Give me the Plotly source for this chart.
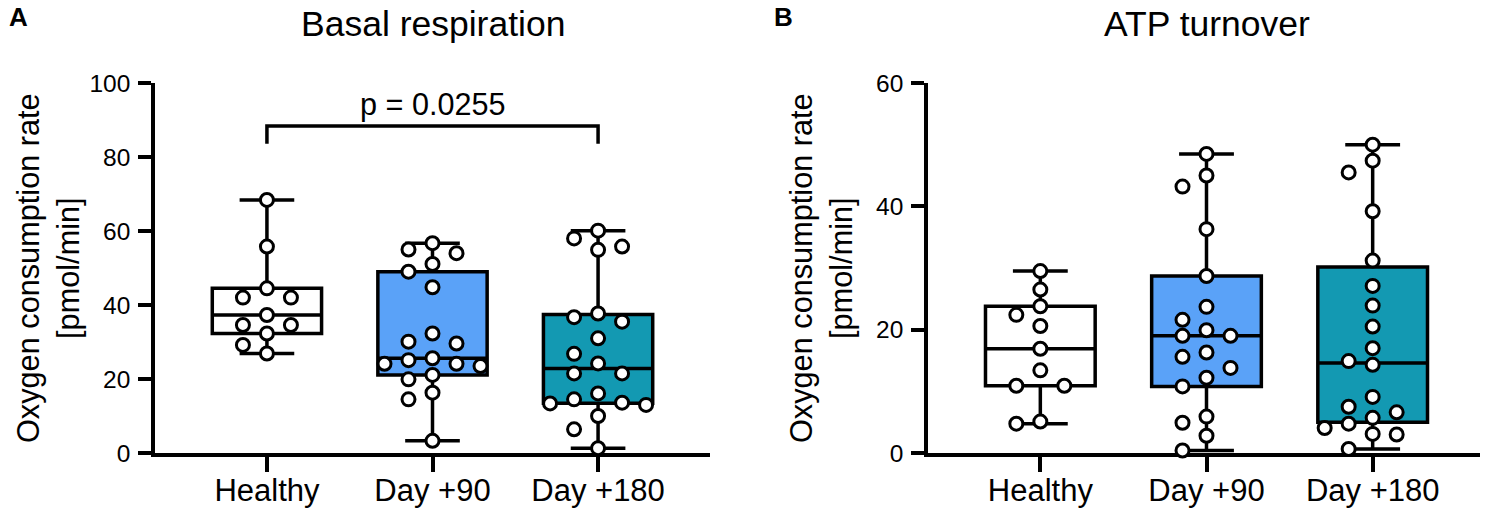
import numpy as np
import plotly.graph_objects as go

# ---------------------------------------------------------------------------------------------
# data (pmol/min)
groups = ["Healthy", "Day +90", "Day +180"]

basal_healthy = [68.4, 55.8, 44.5, 42.0, 42.0, 37.3, 34.6, 34.6, 32.3, 29.2, 26.9]
basal_day90 = [56.7, 55.0, 54.0, 51.1, 49.0, 44.8, 32.3, 30.1, 29.6, 25.6,
               25.1, 24.1, 24.1, 23.5, 21.1, 19.9, 16.3, 14.5, 3.3]
basal_day180 = [60.1, 58.0, 55.8, 54.9, 37.7, 36.7, 35.5, 31.0, 26.8, 24.2,
                21.5, 21.5, 16.1, 14.5, 13.6, 13.4, 13.0, 10.0, 6.4, 1.3]

atp_healthy = [29.5, 26.5, 23.8, 22.4, 20.6, 16.9, 13.4, 10.9, 10.9, 5.1, 4.75]
atp_day90 = [48.5, 45.0, 43.2, 36.3, 28.7, 23.7, 21.6, 19.9, 19.0, 19.0,
             16.3, 15.6, 13.8, 12.2, 10.8, 5.9, 4.9, 2.8, 0.4]
atp_day180 = [50.0, 47.4, 45.5, 39.2, 31.2, 27.1, 23.9, 20.5, 17.0, 14.9,
              14.3, 9.1, 7.5, 6.6, 5.7, 4.75, 4.05, 3.1, 3.0, 0.65]

basal_p_value = "0.0255"
basal_compare = ("Healthy", "Day +180")

# ---------------------------------------------------------------------------------------------
# styling / layout (positions given in page pixels, page has an 8px body margin)
W, H = 1488, 510
OFF = 8
FONT = "Liberation Sans, Arial, sans-serif"
box_fill = ["white", "#5aa2f8", "#1399b2"]
plot_top, plot_bot = 83, 453
panels = [
    dict(x0=155, x1=710, ymax=100, dtick=20, title="Basal respiration", label="A",
         data=[basal_healthy, basal_day90, basal_day180]),
    dict(x0=928, x1=1485, ymax=60, dtick=20, title="ATP turnover", label="B",
         data=[atp_healthy, atp_day90, atp_day180]),
]
xr = [-0.676, 2.676]


def fx(px):
    return max(px - OFF, 0) / W


def fy(py):
    return 1 - (py - OFF) / H


def swarm(vals, px_per_unit, cat_px, step_px=24, diam_px=16):
    """simple greedy beeswarm -> x offsets in category units"""
    vals = np.asarray(vals, dtype=float)
    offs = np.zeros(len(vals))
    cols = {}
    for i in np.argsort(-vals, kind="stable"):
        ypx = vals[i] * px_per_unit
        k = 0
        chosen = None
        while chosen is None:
            for c in ([0] if k == 0 else [-k, k]):
                if all(abs(ypx - q) >= diam_px for q in cols.get(c, [])):
                    chosen = c
                    break
            k += 1
        cols.setdefault(chosen, []).append(ypx)
        offs[i] = chosen * step_px / cat_px
    return offs


fig = go.Figure()

for n, p in enumerate(panels):
    xa = "x" if n == 0 else "x2"
    ya = "y" if n == 0 else "y2"
    px_per_unit = (plot_bot - plot_top) / p["ymax"]
    cat_px = (p["x1"] - p["x0"]) / (xr[1] - xr[0])

    for i, vals in enumerate(p["data"]):
        q1, med, q3 = np.percentile(vals, [25, 50, 75], method="weibull")
        fig.add_trace(go.Box(
            x=[i], q1=[q1], median=[med], q3=[q3],
            lowerfence=[min(vals)], upperfence=[max(vals)],
            width=0.66, whiskerwidth=0.5,
            fillcolor=box_fill[i],
            line=dict(color="black", width=3.5),
            boxpoints=False, hoverinfo="skip",
            xaxis=xa, yaxis=ya, showlegend=False))

    for i, vals in enumerate(p["data"]):
        offs = swarm(vals, px_per_unit, cat_px)
        fig.add_trace(go.Scatter(
            x=i + offs, y=vals, mode="markers",
            marker=dict(size=13, color="white", line=dict(color="black", width=3)),
            cliponaxis=False, xaxis=xa, yaxis=ya, showlegend=False))

    axis_common = dict(showline=True, linecolor="black", linewidth=3.5, ticks="outside",
                       tickcolor="black", tickwidth=3.5, showgrid=False, zeroline=False,
                       layer="below traces", automargin=False)
    fig.layout["xaxis" + ("" if n == 0 else "2")] = dict(
        domain=[fx(p["x0"]), fx(p["x1"])], range=xr, tickvals=[0, 1, 2], ticktext=groups,
        ticklen=15, ticklabelstandoff=-8,
        tickfont=dict(family=FONT, size=31, color="black"), anchor=ya, **axis_common)
    fig.layout["yaxis" + ("" if n == 0 else "2")] = dict(
        domain=[fy(plot_bot), fy(plot_top)], range=[0, p["ymax"]], dtick=p["dtick"],
        ticklen=13, ticklabelstandoff=3,
        tickfont=dict(family=FONT, size=24.5, color="black"), anchor=xa, **axis_common)

    cx = (p["x0"] + p["x1"]) / 2
    fig.add_annotation(x=fx(cx), y=fy(24), xref="paper", yref="paper", text=p["title"],
                       showarrow=False, xanchor="center", yanchor="middle",
                       font=dict(family=FONT, size=35.5, color="black"))
    fig.add_annotation(x=fx(p["x0"] - 107), y=fy((plot_top + plot_bot) / 2),
                       xref="paper", yref="paper", textangle=-90,
                       text="Oxygen consumption rate<br>[pmol/min]", showarrow=False,
                       xanchor="center", yanchor="middle",
                       font=dict(family=FONT, size=30.7, color="black"))
    fig.add_annotation(x=fx(p["x0"] - 155), y=fy(17), xref="paper", yref="paper",
                       text="<b>" + p["label"] + "</b>", showarrow=False,
                       xanchor="left", yanchor="middle", borderpad=0,
                       font=dict(family=FONT, size=26, color="black"))

# significance bracket (panel A)
a_all = basal_healthy + basal_day90 + basal_day180
top = max(a_all) + 20
g0, g1 = groups.index(basal_compare[0]), groups.index(basal_compare[1])
fig.add_trace(go.Scatter(x=[g0, g0, g1, g1], y=[top - 4.8, top, top, top - 4.8],
                         mode="lines", line=dict(color="black", width=3.5),
                         cliponaxis=False, hoverinfo="skip", showlegend=False,
                         xaxis="x", yaxis="y"))
fig.add_annotation(x=(g0 + g1) / 2, y=top, xref="x", yref="y", text="p = " + basal_p_value,
                   showarrow=False, yanchor="bottom", yshift=2,
                   font=dict(family=FONT, size=30.6, color="black"))

fig.update_layout(width=W, height=H, margin=dict(l=0, r=0, t=0, b=0),
                  plot_bgcolor="white", paper_bgcolor="white")

fig.write_html("out.html")
